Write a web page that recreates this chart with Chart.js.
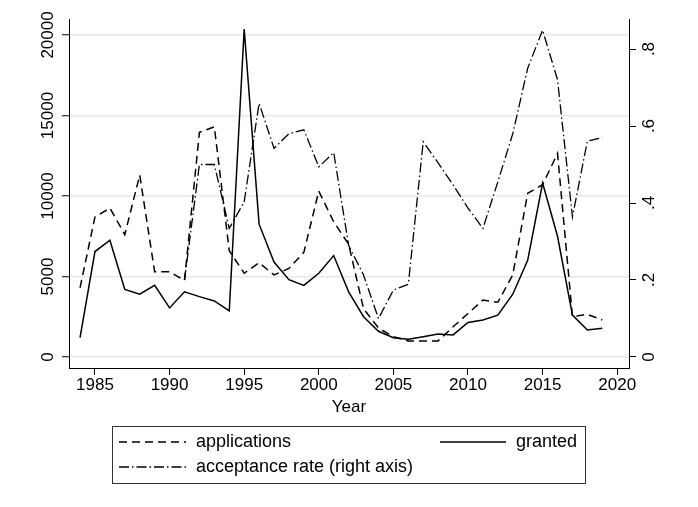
<!DOCTYPE html>
<html>
<head>
<meta charset="utf-8">
<script src="https://cdn.jsdelivr.net/npm/chart.js@4.4.1/dist/chart.umd.min.js"></script>
<style>
  html, body { margin: 0; padding: 0; background: #fff; }
  canvas { display: block; }
</style>
</head>
<body>
<canvas id="chart" width="698" height="507"></canvas>
<script>
const years = [1984, 1985, 1986, 1987, 1988, 1989, 1990, 1991, 1992, 1993, 1994, 1995,
  1996, 1997, 1998, 1999, 2000, 2001, 2002, 2003, 2004, 2005, 2006, 2007,
  2008, 2009, 2010, 2011, 2012, 2013, 2014, 2015, 2016, 2017, 2018, 2019];
const applications = [4300, 8700, 9250, 7600, 11300, 5300, 5300, 4750, 13950, 14300, 6600, 5200,
  5850, 5100, 5500, 6500, 10300, 8400, 7000, 3000, 1800, 1260, 1000, 1000,
  1000, 1880, 2700, 3540, 3400, 5100, 10170, 10700, 12650, 2500, 2650, 2300];
const granted = [1200, 6550, 7250, 4200, 3900, 4450, 3050, 4050, 3750, 3480, 2860, 20370,
  8250, 5900, 4800, 4450, 5200, 6300, 4050, 2500, 1600, 1200, 1100, 1260,
  1430, 1370, 2150, 2300, 2600, 3900, 6000, 10800, 7500, 2600, 1680, 1780];
const acceptance = [null, null, null, null, null, null, null, 0.2, 0.5, 0.5, 0.334, 0.403,
  0.659, 0.542, 0.58, 0.59, 0.494, 0.531, 0.29, 0.213, 0.10, 0.174, 0.189, 0.559,
  0.504, 0.447, 0.387, 0.334, 0.455, 0.58, 0.75, 0.849, 0.72, 0.364, 0.561, 0.57];

const xTicks = [1985, 1990, 1995, 2000, 2005, 2010, 2015, 2020];
const leftTicks = [0, 5000, 10000, 15000, 20000];
const rightTicks = [0, 0.2, 0.4, 0.6, 0.8];
const xTitle = "Year";
const seriesNames = ["applications", "granted", "acceptance rate (right axis)"];

const FONT = '17px "Liberation Sans", Arial, sans-serif';
const LEGEND_FONT = '18px "Liberation Sans", Arial, sans-serif';
const DASH = [8, 5];
const DASH_DOT = [10, 3, 1.5, 3];

function toPoints(values) {
  return years.map((yr, i) => ({ x: yr, y: values[i] }));
}

function fmtRate(v) {
  if (v === 0) return "0";
  return String(Math.round(v * 10) / 10).replace(/^0/, "");
}

const stataLabels = {
  id: "stataLabels",
  afterDraw(chart) {
    const ctx = chart.ctx;
    const { x, y, y2 } = chart.scales;
    const area = chart.chartArea;
    ctx.save();
    ctx.fillStyle = "#000";
    ctx.font = FONT;
    ctx.textAlign = "center";
    ctx.textBaseline = "middle";

    xTicks.forEach((v) => ctx.fillText(String(v), x.getPixelForValue(v), 385));
    ctx.fillText(xTitle, (area.left + area.right) / 2, 407);

    leftTicks.forEach((v) => {
      ctx.save();
      ctx.translate(48, y.getPixelForValue(v));
      ctx.rotate(-Math.PI / 2);
      ctx.fillText(String(v), 0, 0);
      ctx.restore();
    });
    rightTicks.forEach((v) => {
      ctx.save();
      ctx.translate(649, y2.getPixelForValue(v));
      ctx.rotate(-Math.PI / 2);
      ctx.fillText(fmtRate(v), 0, 0);
      ctx.restore();
    });

    // legend box
    ctx.strokeStyle = "#333";
    ctx.lineWidth = 1;
    ctx.strokeRect(112.5, 426.5, 473, 57);

    const rows = [
      { dash: DASH, x0: 119, x1: 186, tx: 196, ty: 442, label: seriesNames[0] },
      { dash: [], x0: 440, x1: 506, tx: 516, ty: 442, label: seriesNames[1] },
      { dash: DASH_DOT, x0: 119, x1: 186, tx: 196, ty: 467, label: seriesNames[2] },
    ];
    ctx.font = LEGEND_FONT;
    ctx.textAlign = "left";
    rows.forEach((r) => {
      ctx.beginPath();
      ctx.setLineDash(r.dash);
      ctx.lineWidth = 1.5;
      ctx.strokeStyle = "#000";
      ctx.moveTo(r.x0, r.ty);
      ctx.lineTo(r.x1, r.ty);
      ctx.stroke();
      ctx.setLineDash([]);
      ctx.fillText(r.label, r.tx, r.ty);
    });
    ctx.restore();
  },
};

const fixedTicks = (list) => (scale) => {
  scale.ticks = list.map((v) => ({ value: v }));
};

new Chart(document.getElementById("chart"), {
  type: "line",
  data: {
    datasets: [
      {
        label: seriesNames[0],
        data: toPoints(applications),
        yAxisID: "y",
        borderColor: "#000",
        borderWidth: 1.5,
        borderDash: DASH,
        pointRadius: 0,
        tension: 0,
      },
      {
        label: seriesNames[1],
        data: toPoints(granted),
        yAxisID: "y",
        borderColor: "#000",
        borderWidth: 1.5,
        pointRadius: 0,
        tension: 0,
      },
      {
        label: seriesNames[2],
        data: toPoints(acceptance),
        yAxisID: "y2",
        borderColor: "#000",
        borderWidth: 1.3,
        borderDash: DASH_DOT,
        pointRadius: 0,
        tension: 0,
        spanGaps: false,
      },
    ],
  },
  options: {
    responsive: false,
    animation: false,
    events: [],
    layout: { padding: { top: 19, left: 0, right: 0, bottom: 0 } },
    plugins: { legend: { display: false }, tooltip: { enabled: false } },
    scales: {
      x: {
        type: "linear",
        min: 1983.26,
        max: 2020.79,
        afterBuildTicks: fixedTicks(xTicks),
        afterFit: (s) => { s.height = 139; },
        ticks: { display: false },
        grid: { drawOnChartArea: false, drawTicks: true, tickLength: 7, tickColor: "#000", tickWidth: 1 },
        border: { display: true, color: "#000", width: 1 },
      },
      y: {
        position: "left",
        min: -683,
        max: 20993,
        afterBuildTicks: fixedTicks(leftTicks),
        afterFit: (s) => { s.width = 69; },
        ticks: { display: false },
        grid: { color: "#e8e8e8", lineWidth: 1.5, tickLength: 7, tickColor: "#000", tickWidth: 1 },
        border: { display: true, color: "#000", width: 1 },
      },
      y2: {
        position: "right",
        min: -0.0286,
        max: 0.878,
        afterBuildTicks: fixedTicks(rightTicks),
        afterFit: (s) => { s.width = 69; },
        ticks: { display: false },
        grid: { drawOnChartArea: false, tickLength: 7, tickColor: "#000", tickWidth: 1 },
        border: { display: true, color: "#000", width: 1 },
      },
    },
  },
  plugins: [stataLabels],
});
</script>
</body>
</html>
